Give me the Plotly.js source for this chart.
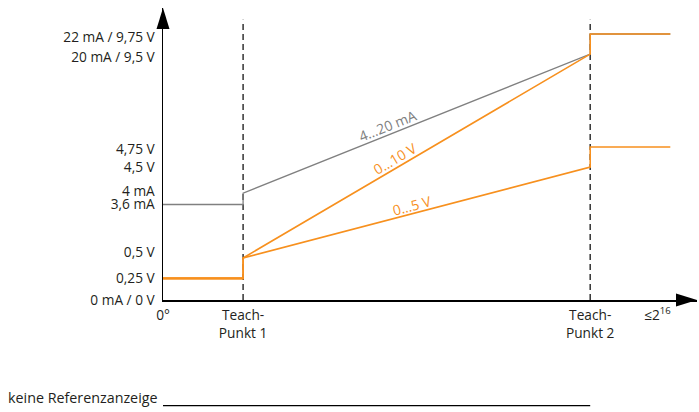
<!DOCTYPE html>
<html>
<head>
<meta charset="utf-8">
<script src="https://cdn.plot.ly/plotly-3.0.1.min.js"></script>
<style>html,body{margin:0;padding:0;background:#fff;}#chart{width:699px;height:412px;}</style>
</head>
<body>
<div id="chart"></div>
<script>
// Schematic positions (x: encoder position, y: output level)
const xStart = 0, xTeach1 = 15, xTeach2 = 80, xEnd = 95, xAxisEnd = 100;

// Output levels (schematic scale 0..100)
const lvl0 = 0, lvl025V = 7.4, lvl05V = 14.4, lvl36mA = 32.7, lvl4mA = 36.6,
      lvl45V = 45.5, lvl475V = 52.4, lvl20mA = 84.2, lvl22mA = 91.1;

const yTickVals = [lvl0, lvl025V, lvl05V + 2, lvl36mA, lvl4mA + 0.8, lvl45V, lvl475V - 0.6, lvl20mA - 1, lvl22mA - 1];
const yTickText = ["0 mA / 0 V", "0,25 V", "0,5 V", "3,6 mA", "4 mA", "4,5 V", "4,75 V", "20 mA / 9,5 V", "22 mA / 9,75 V"];

const xTickVals = [xStart, xTeach1, xTeach2, 92.6];
const xTickText = ["0°", "Teach-<br>Punkt 1", "Teach-<br>Punkt 2", "≤2<sup>16</sup>"];

// Series
const x_mA = [xStart, xTeach1, xTeach1, xTeach2, xTeach2, xEnd];
const y_mA = [lvl36mA, lvl36mA, lvl4mA, lvl20mA, lvl22mA, lvl22mA];

const x_10V = [xStart, xTeach1, xTeach1, xTeach2, xTeach2, xEnd];
const y_10V = [lvl025V, lvl025V, lvl05V, lvl20mA, lvl22mA, lvl22mA];

const x_5V = [xStart, xTeach1, xTeach1, xTeach2, xTeach2, xEnd];
const y_5V = [lvl025V, lvl025V, lvl05V, lvl45V, lvl475V, lvl475V];

const seriesNames = ["4…20 mA", "0…10 V", "0…5 V"];
const noRefLabel = "keine Referenzanzeige";

const grey = "#808080", orange = "#f7901e", ink = "#231f20";
const font = "Open Sans, sans-serif";

const traces = [
  {x: x_mA, y: y_mA, mode: "lines", line: {color: grey, width: 1.3}, name: seriesNames[0], hoverinfo: "skip"},
  {x: x_5V, y: y_5V, mode: "lines", line: {color: orange, width: 1.6}, name: seriesNames[2], hoverinfo: "skip"},
  {x: x_10V, y: y_10V, mode: "lines", line: {color: orange, width: 1.6}, name: seriesNames[1], hoverinfo: "skip"},
  {x: [xStart, xTeach1], y: [lvl025V, lvl025V], mode: "lines", line: {color: orange, width: 2.2}, hoverinfo: "skip", showlegend: false}
];

// Angles of label annotations follow the line slopes in pixels
function slopeAngle(x0, y0, x1, y1) {
  const pxX = 534 / 100, pxY = 292 / 100;
  return -Math.atan2((y1 - y0) * pxY, (x1 - x0) * pxX) * 180 / Math.PI;
}

const layout = {
  width: 699, height: 412,
  margin: {l: 163, r: 2, t: 8, b: 112, pad: 0},
  paper_bgcolor: "#fff", plot_bgcolor: "#fff",
  showlegend: false,
  font: {family: font, size: 13.7, color: ink},
  xaxis: {
    range: [0, xAxisEnd], showgrid: false, zeroline: false,
    showline: true, linecolor: "#000", linewidth: 1.5,
    tickvals: xTickVals, ticktext: xTickText, ticks: "", ticklabelstandoff: 2,
    tickfont: {family: font, size: 13.7, color: ink}, fixedrange: true
  },
  yaxis: {
    range: [0, 100], showgrid: false, zeroline: false,
    showline: true, linecolor: "#000", linewidth: 1.5,
    tickvals: yTickVals, ticktext: yTickText, ticks: "", ticklabelstandoff: 4,
    tickfont: {family: font, size: 13.7, color: ink}, fixedrange: true
  },
  shapes: [
    {type: "line", xref: "x", yref: "y", x0: xTeach1, x1: xTeach1, y0: 0, y1: 96,
     line: {color: "#333", width: 1.5, dash: "6px,4px"}, layer: "below"},
    {type: "line", xref: "x", yref: "y", x0: xTeach2, x1: xTeach2, y0: 0, y1: 96,
     line: {color: "#333", width: 1.5, dash: "6px,4px"}, layer: "below"},
    {type: "path", xref: "paper", yref: "paper", xsizemode: "pixel", ysizemode: "pixel",
     xanchor: 0, yanchor: 1, path: "M -6.5,-21 L 6.5,-21 L 0,0 Z",
     fillcolor: "#000", line: {width: 0}},
    {type: "path", xref: "paper", yref: "paper", xsizemode: "pixel", ysizemode: "pixel",
     xanchor: 1, yanchor: 0, path: "M -21,-6.5 L -21,6.5 L 0,0 Z",
     fillcolor: "#000", line: {width: 0}},
    {type: "line", xref: "x", yref: "paper", x0: -0.4, x1: xTeach2, y0: -0.362, y1: -0.362,
     line: {color: "#000", width: 1.2}}
  ],
  annotations: [
    {x: 42.1, y: 59.9, xref: "x", yref: "y", text: seriesNames[0], showarrow: false,
     textangle: slopeAngle(xTeach1, lvl4mA, xTeach2, lvl20mA), font: {family: font, size: 14, color: grey}},
    {x: 43.4, y: 48.6, xref: "x", yref: "y", text: seriesNames[1], showarrow: false,
     textangle: slopeAngle(xTeach1, lvl05V, xTeach2, lvl20mA), font: {family: font, size: 14, color: orange}},
    {x: 46.6, y: 32.5, xref: "x", yref: "y", text: seriesNames[2], showarrow: false,
     textangle: slopeAngle(xTeach1, lvl05V, xTeach2, lvl45V), font: {family: font, size: 14, color: orange}},
    {x: 0, y: -0.362, xref: "paper", yref: "paper", xanchor: "right", yanchor: "bottom",
     xshift: -3, yshift: -3, text: noRefLabel, showarrow: false,
     font: {family: font, size: 14.3, color: ink}}
  ]
};

Plotly.newPlot("chart", traces, layout, {staticPlot: true, displayModeBar: false});
</script>
</body>
</html>
